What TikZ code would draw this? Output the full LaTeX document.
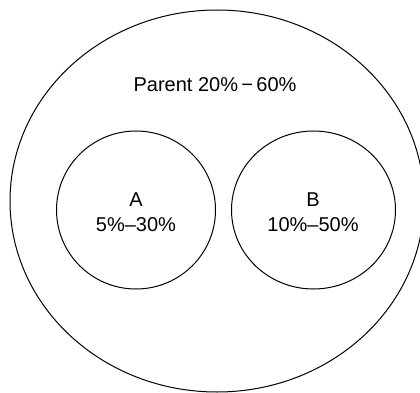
\documentclass[tikz,border=0pt]{standalone}
\usepackage{fontspec}
\setmainfont{Liberation Sans}
\usetikzlibrary{shapes.geometric}
\begin{document}
\begin{tikzpicture}[x=1pt,y=-1pt,
  set/.style={draw=black,line width=1pt,ellipse,inner sep=0pt},
  lbl/.style={font=\fontsize{20}{24}\selectfont,anchor=base,inner sep=0pt}]
\useasboundingbox (0,0) rectangle (420,393);
\clip (0,0) rectangle (420,393);
\node[set,minimum width=414pt,minimum height=382pt] (parent) at (217,201) {};
\node[set,minimum width=159pt,minimum height=158pt] (A) at (136,210) {};
\node[set,minimum width=164pt,minimum height=158pt] (B) at (313.5,210) {};
\node[lbl] (pt) at (215,92) {Parent 20\%\,−\,60\%};
\node[lbl] (an) at (136,206) {A};
\node[lbl] (ar) at (136,231) {5\%–30\%};
\node[lbl] (bn) at (313,206) {B};
\node[lbl] (br) at (313,231) {10\%–50\%};
\end{tikzpicture}
\end{document}
